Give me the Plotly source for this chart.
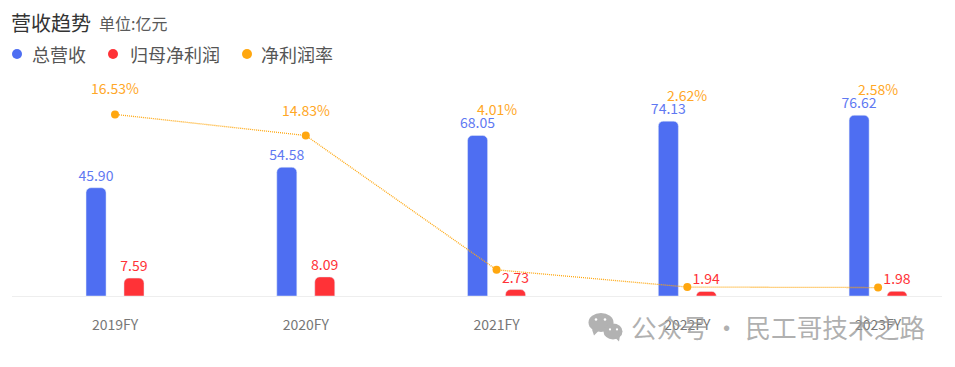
import plotly.graph_objects as go

W, H = 955, 367
L, R, T, B = 12, 13, 70, 70.5
CJK = "Noto Sans CJK SC"

categories = ["2019FY", "2020FY", "2021FY", "2022FY", "2023FY"]
revenue = [45.90, 54.58, 68.05, 74.13, 76.62]
net_profit = [7.59, 8.09, 2.73, 1.94, 1.98]
net_margin = [16.53, 14.83, 4.01, 2.62, 2.58]
margin_labels = ["16.53%", "14.83%", "4.01%", "2.62%", "2.58%"]
legend_names = ["总营收", "归母净利润", "净利润率"]
title_text = "营收趋势"
unit_text = "单位:亿元"
watermark_text = "公众号 · 民工哥技术之路"

BLUE, RED, ORANGE = "#4E6EF2", "#FF3237", "#FFA70F"


def px(x):
    return (x - L) / (W - L - R)


def py(y):
    return 1 - (y - T) / (H - T - B)


fig = go.Figure()
fig.add_bar(x=categories, y=revenue, name=legend_names[0], marker_color=BLUE,
            width=0.105, offset=-0.152,
            text=[f"{v:.2f}" for v in revenue], textposition="outside", constraintext="none",
            textfont=dict(color="#5F79F2", size=14, family=CJK), cliponaxis=False)
fig.add_bar(x=categories, y=net_profit, name=legend_names[1], marker_color=RED,
            width=0.105, offset=0.047,
            text=[f"{v:.2f}" for v in net_profit], textposition="outside", constraintext="none",
            textfont=dict(color=RED, size=14, family=CJK), cliponaxis=False)
fig.add_scatter(x=categories, y=net_margin, name=legend_names[2], yaxis="y2",
                mode="lines+markers", line=dict(color=ORANGE, width=1.3, dash="1px,1px"),
                marker=dict(color=ORANGE, size=8), cliponaxis=False)

# margin labels sit above whichever is higher: the line point or the revenue bar
y_scale = 2.364
y2_scale = 12.44
y2_base = 1.9
annotations = []
for i, c in enumerate(categories):
    line_h = (net_margin[i] - y2_base) * y2_scale
    bar_h = revenue[i] * y_scale
    on_line = line_h > bar_h
    annotations.append(dict(
        x=c, xref="x", y=net_margin[i] if on_line else revenue[i],
        yref="y2" if on_line else "y", yshift=26, yanchor="middle", text=margin_labels[i],
        showarrow=False, font=dict(color="#FFA726", size=14, family=CJK)))


def label(x, y, text, size, color):
    return dict(x=px(x), y=py(y), xref="paper", yref="paper", xanchor="left", yanchor="middle",
                text=text, showarrow=False, font=dict(size=size, color=color, family=CJK))


annotations += [
    label(9, 22, title_text, 20, "#333333"),
    label(97, 23, unit_text, 16, "#5A5A5A"),
    label(30, 54, legend_names[0], 18, "#555555"),
    label(128, 54, legend_names[1], 18, "#555555"),
    label(259, 54, legend_names[2], 18, "#555555"),
    label(629, 327.5, watermark_text, 25.7, "rgba(150,150,150,0.75)"),
]


def circle(cx, cy, r, color, rx=None):
    rx = rx or r
    return dict(type="circle", xref="paper", yref="paper", line_width=0, fillcolor=color,
                x0=px(cx - rx), x1=px(cx + rx), y0=py(cy + r), y1=py(cy - r))


GREY = "#B2B2B2"
shapes = [circle(17, 54, 5, BLUE), circle(113, 54, 5, RED), circle(247, 54, 5, ORANGE),
          circle(601, 323, 9.5, GREY, 12.5), circle(613, 332, 8, GREY, 9.5),
          dict(type="path", xref="paper", yref="paper", line_width=0, fillcolor=GREY,
               path=f"M {px(592)} {py(330)} L {px(594)} {py(336)} L {px(599)} {py(331)} Z"),
          dict(type="path", xref="paper", yref="paper", line_width=0, fillcolor=GREY,
               path=f"M {px(615)} {py(338)} L {px(619)} {py(342)} L {px(620)} {py(336)} Z"),
          circle(596, 320, 1.3, "white"), circle(605, 320, 1.3, "white"),
          circle(610, 330, 1.1, "white"), circle(617, 330, 1.1, "white")]

fig.update_layout(
    width=W, height=H, autosize=False, margin=dict(l=L, r=R, t=T, b=B),
    paper_bgcolor="white", plot_bgcolor="white", barmode="overlay", barcornerradius=5,
    showlegend=False, annotations=annotations, shapes=shapes,
    font=dict(family=CJK),
    xaxis=dict(type="category", categoryorder="array", categoryarray=categories,
               range=[-0.54, 4.335], showgrid=False, zeroline=False, showline=True,
               linecolor="#EEEEEE", linewidth=1, ticks="", ticklabelstandoff=16,
               tickfont=dict(size=14, color="#777777", family=CJK)),
    yaxis=dict(range=[0, (H - T - B) / y_scale], visible=False),
    yaxis2=dict(range=[y2_base, y2_base + (H - T - B) / y2_scale],
                overlaying="y", side="right", visible=False),
)
fig.write_html("out.html", config=dict(displayModeBar=False),
               post_script="document.body.style.margin='0';document.body.style.overflow='hidden';")
